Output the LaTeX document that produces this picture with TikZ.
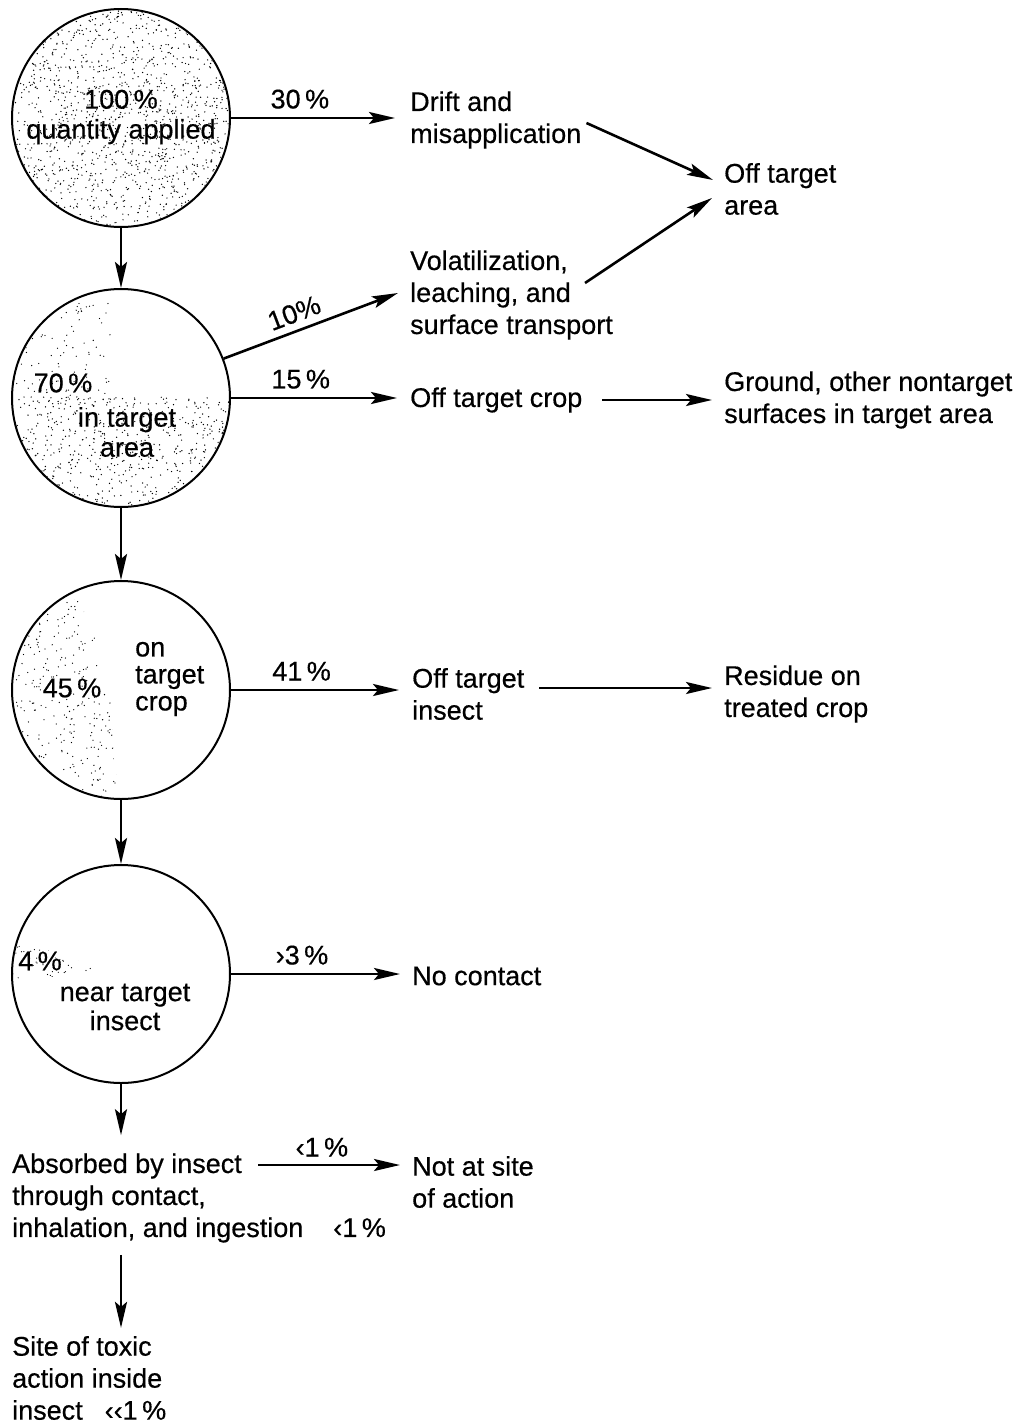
\documentclass[tikz,border=0pt]{standalone}
\usepackage{fontspec}
\setmainfont{Liberation Sans}[FakeBold=0.5]
\usetikzlibrary{arrows.meta}
\begin{document}
\begin{tikzpicture}[x=1pt,y=-1pt,
  every node/.style={font=\fontsize{27}{32}\selectfont, inner sep=0pt},
  txt/.style={align=left, anchor=west},
  bub/.style={circle, draw, line width=2pt, minimum size=218pt},
  arr/.style={line width=2.6pt, -{Stealth[length=26pt,width=12pt,inset=5pt]}},
  lbl/.style={font=\fontsize{27}{32}\selectfont},
  dot/.style={fill=black}
]
\useasboundingbox (0,0) rectangle (1018,1424);
\pgfmathsetseed{7}
% stipple, circle 1
\begin{scope}
  \clip (121,118) circle (108pt);
  \foreach \i in {1,...,1500} \fill[dot] ({121+109*rand},{118+109*rand}) circle (0.7pt);
\end{scope}
% stipple, circle 2
\begin{scope}
  \clip (121,398) circle (108pt);
  \foreach \i in {1,...,650} \fill[dot] ({121+110*rand},{452+55*rand}) circle (0.7pt);
  \foreach \i in {1,...,110} \fill[dot] ({60+50*rand},{350+50*rand}) circle (0.65pt);
\end{scope}
% stipple, circle 3
\begin{scope}
  \clip (121,690) circle (108pt);
  \clip (0,580) -- (78,600) .. controls (100,640) and (112,690) .. (112,720) .. controls (114,760) and (117,780) .. (118,800) -- (0,800) -- cycle;
  \foreach \i in {1,...,380} \fill[dot] ({60+60*rand},{690+110*rand}) circle (0.65pt);
\end{scope}
% stipple, circle 4
\begin{scope}
  \clip (121,974) circle (108pt);
  \clip (12,938) -- (112,972) -- (12,980) -- cycle;
  \foreach \i in {1,...,70} \fill[dot] ({62+50*rand},{959+21*rand}) circle (0.6pt);
\end{scope}

% circles
\node[bub] (c1) at (121,118) {};
\node[bub] (c2) at (121,398) {};
\node[bub] (c3) at (121,690) {};
\node[bub] (c4) at (121,974) {};

% circle texts
\node[align=center, font=\fontsize{27}{30}\selectfont] (t1) at (121,117) {100\,\%\\quantity applied};
\node (t2a) at (63,383) {70\,\%};
\node[align=center, font=\fontsize{27}{30}\selectfont] (t2b) at (127,432) {in\hspace{8pt}target\\area};
\node (t3a) at (72,688) {45\,\%};
\node[txt, font=\fontsize{27}{27}\selectfont] (t3b) at (135,679) {on\\target\\crop};
\node (t4a) at (40,961) {4\,\%};
\node[align=center, font=\fontsize{27}{29}\selectfont] (t4b) at (125,1007) {near target\\insect};

% outcome texts
\node[txt] (drift) at (410,120) {Drift and\\misapplication};
\node[txt] (offarea) at (724,189) {Off target\\area};
\node[txt] (vol) at (410,295) {Volatilization,\\leaching, and\\surface transport};
\node[txt] (crop) at (410,400) {Off target crop};
\node[txt] (ground) at (724,400) {Ground, other nontarget\\surfaces in target area};
\node[txt] (offins) at (412,694) {Off target\\insect};
\node[txt] (residue) at (724,694) {Residue on\\treated crop};
\node[txt] (nocontact) at (412,976) {No contact};
\node[txt] (notsite) at (412,1182) {Not at site\\of action};
\node[txt] (absorbed) at (12,1198) {Absorbed by insect\\through contact,\\inhalation, and ingestion\hspace{30pt}‹1\,\%};
\node[txt] (site) at (12,1378) {Site of toxic\\action inside\\insect\hspace{22pt}‹‹1\,\%};

% vertical flow
\draw[arr] (c1.south) -- (c2.north);
\draw[arr] (c2.south) -- (c3.north);
\draw[arr] (c3.south) -- (c4.north);
\draw[arr] (c4.south) -- ([yshift=18pt]c4.south |- absorbed.north);
\draw[arr] ([yshift=-12pt]c4.south |- absorbed.south) -- ([yshift=8pt]c4.south |- site.north);

% horizontal flows
\draw[arr] (c1.east) -- ([xshift=-15pt]c1.east -| drift.west) node[lbl, pos=0.42, above=8pt] {30\,\%};
\draw[arr] (c2.21) -- ([shift={(-12,-2)}]vol.west) node[lbl, pos=0.44, sloped, above=7pt] {10\%};
\draw[arr] (c2.east) -- ([xshift=-13pt]c2.east -| crop.west) node[lbl, pos=0.42, above=8pt] {15\,\%};
\draw[arr] (c3.east) -- ([xshift=-13pt]c3.east -| offins.west) node[lbl, pos=0.42, above=8pt] {41\,\%};
\draw[arr] (c4.east) -- ([xshift=-12pt]c4.east -| nocontact.west) node[lbl, pos=0.42, above=8pt] {›3\,\%};
\draw[arr] ([shift={(246,-33)}]absorbed.west) -- ([shift={(-12,-17)}]notsite.west) node[lbl, pos=0.45, above=7pt] {‹1\,\%};

% right-hand flows
\draw[arr] ([shift={(5,3)}]drift.east) -- ([shift={(-11,-9)}]offarea.west);
\draw[arr] ([shift={(175,-12)}]vol.west) -- ([shift={(-12,9)}]offarea.west);
\draw[arr] ([xshift=20pt]crop.east) -- ([xshift=-12pt]crop.east -| ground.west);
\draw[arr] ([shift={(15,-6)}]offins.west -| offins.east) -- ([shift={(-12,-6)}]residue.west);
\end{tikzpicture}
\end{document}
